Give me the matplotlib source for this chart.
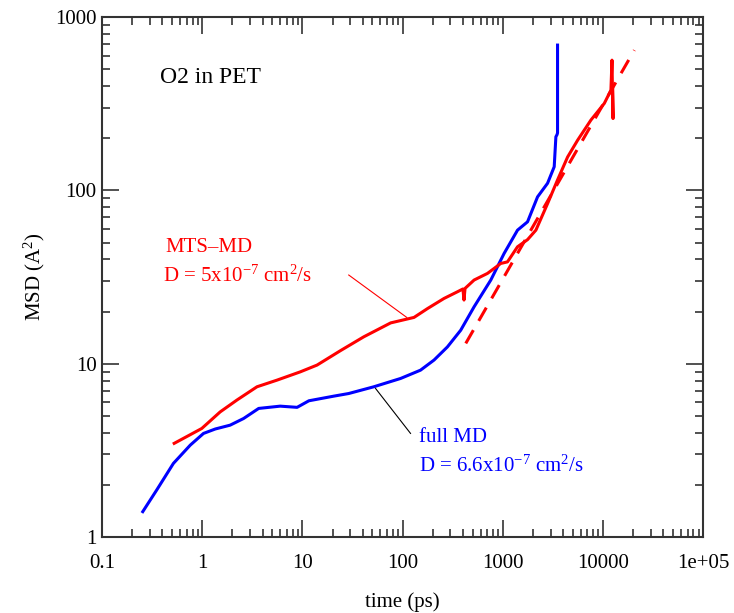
import numpy as np
import matplotlib
matplotlib.use('Agg')
import matplotlib.pyplot as plt
from matplotlib.ticker import LogLocator, FixedFormatter, FixedLocator, NullFormatter

plt.rcParams['font.family'] = ['Liberation Serif', 'DejaVu Serif']
plt.rcParams['mathtext.fontset'] = 'custom'
plt.rcParams['mathtext.rm'] = 'Liberation Serif'
plt.rcParams['mathtext.it'] = 'Liberation Serif:italic'

# full MD (blue)
full_t = [0.255, 0.352, 0.516, 0.76, 1.03, 1.35, 1.9, 2.59, 3.66, 6.0, 8.85, 11.6,
          20.6, 29, 51.6, 95.5, 151, 206, 280, 380, 517, 759, 1031, 1403, 1766,
          2223, 2798, 3260, 3388, 3480, 3520, 3520]
full_msd = [1.40, 1.87, 2.66, 3.39, 3.96, 4.2, 4.42, 4.83, 5.52, 5.69, 5.6, 6.11,
            6.5, 6.73, 7.36, 8.22, 9.18, 10.5, 12.5, 15.6, 21.3, 30.4, 43.3, 59, 65.9,
            91.8, 110, 137, 204, 210, 215, 690]

# MTS-MD (red)
mts_t = [0.525, 0.99, 1.51, 2.22, 3.52, 5.58, 9.55, 14, 24, 41, 76, 130, 177, 259,
         352, 400, 410, 420, 517, 703, 955, 1114, 1403, 1766, 2140, 2800, 3520,
         4436, 5585, 7586, 10310, 12000, 12300, 12400, 12600, 12500]
mts_msd = [3.47, 4.23, 5.27, 6.17, 7.36, 8.04, 8.98, 9.82, 11.9, 14.3, 17.2, 18.5,
           20.8, 23.8, 26.0, 27.0, 23.3, 27.2, 30.4, 33.2, 37.9, 38.7, 47.3, 52, 59,
           84, 115, 156, 195, 255, 318, 379, 565, 420, 260, 400]

# linear fit (dashed)
fit_t = [427, 20560]
fit_msd = [13.1, 645]

xticks = [0.1, 1, 10, 100, 1000, 10000, 100000]
xlabels = ['0.1', '1', '10', '100', '1000', '10000', '1e+05']
yticks = [1, 10, 100, 1000]
ylabels = ['1', '10', '100', '1000']

fig = plt.figure(figsize=(7.34, 6.13), dpi=100)
ax = fig.add_axes([0.139, 0.124, 0.819, 0.848])

ax.plot(full_t, full_msd, color='#0000ff', linewidth=2.2)
ax.plot(mts_t, mts_msd, color='#ff0000', linewidth=2.2)
ax.plot(fit_t, fit_msd, color='#ff0000', linewidth=2.2, linestyle=(0, (5, 3.5)))

# annotation leaders
ax.plot([29.0, 110], [32.5, 18.5], color='#ff0000', linewidth=0.8)
ax.plot([53.7, 120], [7.2, 3.96], color='black', linewidth=0.8)

ax.set_xscale('log')
ax.set_yscale('log')
ax.set_xlim(0.1, 1e5)
ax.set_ylim(1, 1000)

ax.xaxis.set_major_locator(FixedLocator(xticks))
ax.xaxis.set_major_formatter(FixedFormatter(xlabels))
ax.yaxis.set_major_locator(FixedLocator(yticks))
ax.yaxis.set_major_formatter(FixedFormatter(ylabels))
ax.xaxis.set_minor_locator(LogLocator(base=10, subs=np.arange(2, 10), numticks=20))
ax.yaxis.set_minor_locator(LogLocator(base=10, subs=np.arange(2, 10), numticks=20))
ax.xaxis.set_minor_formatter(NullFormatter())
ax.yaxis.set_minor_formatter(NullFormatter())

ax.tick_params(which='both', direction='in', top=True, right=True, colors='#333333',
               labelcolor='black', labelsize=15)
ax.tick_params(which='major', length=12, width=1.2)
ax.tick_params(which='minor', length=6, width=1.2)
ax.tick_params(axis='x', which='major', pad=12)
ax.tick_params(axis='y', which='major', pad=4)
for s in ax.spines.values():
    s.set_linewidth(1.5)
    s.set_color('#333333')

ax.set_xlabel('time (ps)', fontsize=15, labelpad=14)
ax.set_ylabel('MSD (A$^2$)', fontsize=15, labelpad=6)

ax.text(0.38, 416, 'O2 in PET', fontsize=17, va='baseline')
ax.text(0.427, 44, 'MTS\u2013MD', fontsize=15, color='#ff0000', va='baseline')
ax.text(0.407, 29.6, 'D = 5x10$^{-7}$ cm$^2$/s', fontsize=15, color='#ff0000', va='baseline')
ax.text(145, 3.55, 'full MD', fontsize=15, color='#0000ff', va='baseline')
ax.text(145, 2.38, 'D = 6.6x10$^{-7}$ cm$^2$/s', fontsize=15, color='#0000ff', va='baseline')

fig.savefig('out.png', dpi=100)
